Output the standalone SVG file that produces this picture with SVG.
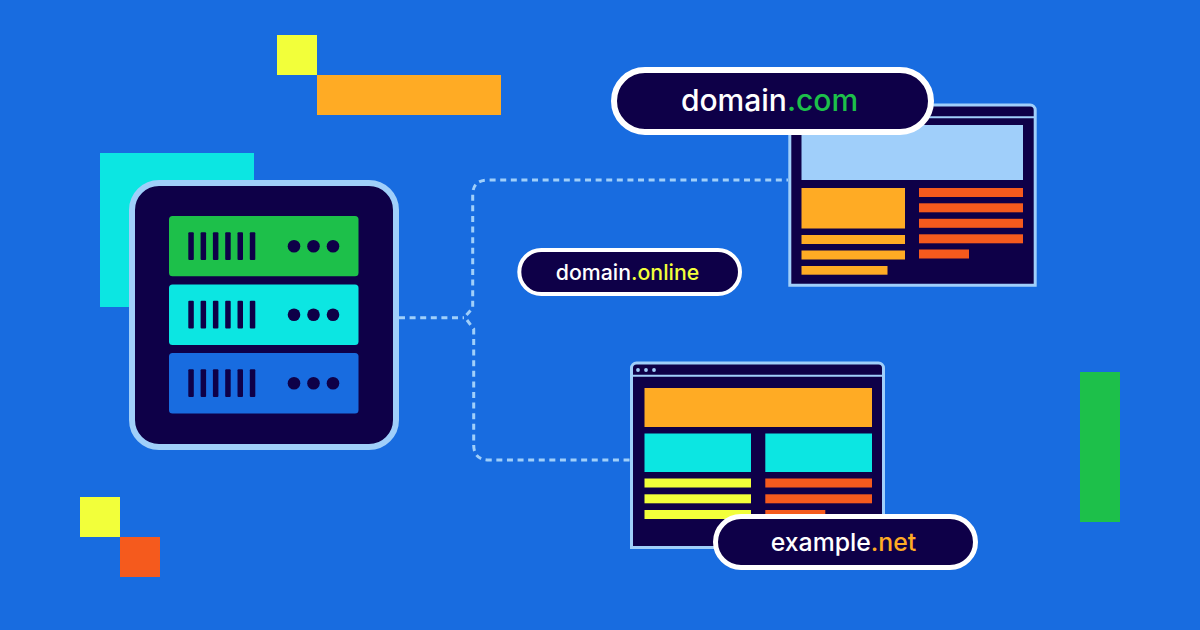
<svg xmlns="http://www.w3.org/2000/svg" width="1200" height="630" viewBox="0 0 1200 630">
<style>
.navy{fill:#0e0048}.cy{fill:#0ce6e2}.ye{fill:#f2ff3a}.or{fill:#ffab24}.re{fill:#f55a1d}.gr{fill:#1dc04a}.bl{fill:#186ce0}.lb{fill:#a0cffa}
.win{fill:#0e0048;stroke:#a0cffa;stroke-width:3}
.hdr{stroke:#a0cffa;stroke-width:2;fill:none}
.pill{fill:#0e0048;stroke:#fff}
text{font-family:"Inter","Liberation Sans",sans-serif;font-weight:500;fill:#fff;text-anchor:middle}
.conn{fill:none;stroke:#a0cffa;stroke-width:3;stroke-dasharray:6 4.6}
</style>
<defs>
<g id="row"><rect x="188.3" y="16.3" width="5.5" height="27.7" rx="1"/><rect x="200.6" y="16.3" width="5.5" height="27.7" rx="1"/><rect x="212.9" y="16.3" width="5.5" height="27.7" rx="1"/><rect x="225.2" y="16.3" width="5.5" height="27.7" rx="1"/><rect x="237.5" y="16.3" width="5.5" height="27.7" rx="1"/><rect x="249.8" y="16.3" width="5.5" height="27.7" rx="1"/><circle cx="294" cy="30.3" r="6.3"/><circle cx="313.5" cy="30.3" r="6.3"/><circle cx="333" cy="30.3" r="6.3"/></g>
</defs>
<rect width="1200" height="630" class="bl"/>
<g id="decor">
<rect x="277" y="35" width="40" height="40" class="ye"/>
<rect x="317" y="75" width="184" height="40" class="or"/>
<rect x="80" y="497" width="40" height="40" class="ye"/>
<rect x="120" y="537" width="40" height="40" class="re"/>
<rect x="1080" y="372" width="40" height="150" class="gr"/>
<rect x="100" y="153" width="154" height="154" class="cy"/>
</g>
<g id="connectors">
<path class="conn" d="M399 317.7H464"/>
<path class="conn" d="M466.5 315L472.7 308V195Q472.7 180 488 180H788"/>
<path class="conn" d="M467 320L473.7 329V445Q473.7 460 489 460H630"/>
</g>
<g id="server">
<rect x="132" y="183" width="264" height="264" rx="27" fill="#0e0048" stroke="#a0cffa" stroke-width="6"/>
<rect x="169" y="216" width="189.5" height="60.3" rx="3.5" class="gr"/>
<rect x="169" y="284.5" width="189.5" height="60.5" rx="3.5" class="cy"/>
<rect x="169" y="353" width="189.5" height="60.5" rx="3.5" class="bl"/>
<use href="#row" y="216" class="navy"/>
<use href="#row" y="284.5" class="navy"/>
<use href="#row" y="353" class="navy"/>
</g>
<g id="window-com">
<path class="win" d="M789.8 285.2V110a5 5 0 0 1 5-5H1030.2a5 5 0 0 1 5 5V285.2Z"/>
<path class="hdr" d="M789.8 117.3H1035.2"/>
<rect x="801.5" y="125" width="221.5" height="55" class="lb"/>
<rect x="801.5" y="188" width="103.5" height="40.5" class="or"/>
<rect x="801.5" y="235" width="103.5" height="9" class="or"/>
<rect x="801.5" y="250.5" width="103.5" height="9" class="or"/>
<rect x="801.5" y="266" width="86" height="8.7" class="or"/>
<rect x="919" y="188" width="104" height="9" class="re"/>
<rect x="919" y="203.3" width="104" height="9" class="re"/>
<rect x="919" y="218.8" width="104" height="9" class="re"/>
<rect x="919" y="234.3" width="104" height="9" class="re"/>
<rect x="919" y="249.5" width="50" height="9" class="re"/>
</g>
<g id="pill-com">
<rect x="614" y="70" width="317" height="62" rx="31" class="pill" stroke-width="6"/>
<text x="769.5" y="111" font-size="30">domain<tspan class="gr">.com</tspan></text>
</g>
<g id="pill-online">
<rect x="519.3" y="250" width="220.7" height="44" rx="22" class="pill" stroke-width="4"/>
<text x="627.5" y="279.5" font-size="21.3">domain<tspan class="ye">.online</tspan></text>
</g>
<g id="window-net">
<path class="win" d="M631.5 547.5V368a5 5 0 0 1 5-5H878.5a5 5 0 0 1 5 5V547.5Z"/>
<path class="hdr" d="M631.5 375.7H883.5"/>
<circle cx="638" cy="370" r="1.9" class="lb"/><circle cx="646" cy="370" r="1.9" class="lb"/><circle cx="654" cy="370" r="1.9" class="lb"/>
<rect x="644.5" y="388" width="227.5" height="39" class="or"/>
<rect x="644.5" y="433.5" width="106.5" height="38.5" class="cy"/>
<rect x="765.3" y="433.5" width="106.7" height="38.5" class="cy"/>
<rect x="644.5" y="478.5" width="106.5" height="9" class="ye"/>
<rect x="644.5" y="494.3" width="106.5" height="9" class="ye"/>
<rect x="644.5" y="510" width="106.5" height="9" class="ye"/>
<rect x="765.3" y="478.5" width="106.7" height="9" class="re"/>
<rect x="765.3" y="494.3" width="106.7" height="9" class="re"/>
<rect x="765.3" y="510" width="60" height="9" class="re"/>
</g>
<g id="pill-net">
<rect x="715.5" y="516.5" width="260" height="51" rx="25.5" class="pill" stroke-width="5"/>
<text x="843.5" y="551" font-size="24.8">example<tspan class="or">.net</tspan></text>
</g>
</svg>
